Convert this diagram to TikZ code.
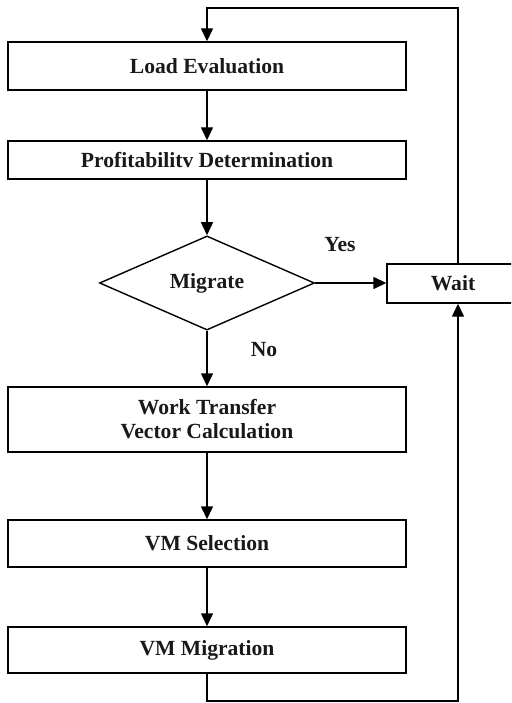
\documentclass[tikz,border=0pt]{standalone}
\usepackage{fontspec}
\setmainfont{Liberation Serif}
\usetikzlibrary{shapes.geometric,arrows.meta}
\begin{document}
\begin{tikzpicture}[x=1pt,y=-1pt,
  lbl/.style={font=\fontsize{21.6}{24}\selectfont\bfseries, text=black!90, inner sep=0pt, align=center},
  box/.style={lbl, draw=black, line width=1.4pt, minimum width=398pt},
  dia/.style={lbl, draw=black, line width=1.4pt, diamond, minimum width=215pt, minimum height=91pt},
  arr/.style={line width=1.4pt, -{Triangle[length=13pt,width=12pt]}},
  ln/.style={line width=1.4pt}]
\useasboundingbox (0,0) rectangle (511,703);
\clip (0,0) rectangle (511,703);
\node[box, minimum height=48pt] (load) at (207,66) {Load Evaluation};
\node[box, minimum height=38pt] (prof) at (207,160) {Profitabilitv Determination};
\node[dia] (mig) at (207,283) {Migrate};
\node[box, minimum height=65pt] (work) at (207,419.5) {Work Transfer\\Vector Calculation};
\node[box, minimum height=47pt] (sel) at (207,543.5) {VM Selection};
\node[box, minimum height=46pt] (vmm) at (207,650) {VM Migration};
\node[lbl, draw=black, line width=1.4pt, minimum width=132pt, minimum height=39pt] (wait) at (453,283.5) {Wait};
\node[lbl] (yes) at (340,245) {Yes};
\node[lbl] (no) at (264,350) {No};
\coordinate (c1) at (458,701);
\coordinate (c2) at (458,8);
\draw[arr] (load) -- (prof);
\draw[arr] (prof) -- (mig);
\draw[arr] (mig) -- (work);
\draw[arr] (work) -- (sel);
\draw[arr] (sel) -- (vmm);
\draw[arr] (mig.east) -- (mig.east -| wait.west);
\draw[arr] (vmm.south) |- (c1) -- (c1 |- wait.south);
\draw[arr] (c2 |- wait.north) -- (c2) -| (load.north);
\end{tikzpicture}
\end{document}
